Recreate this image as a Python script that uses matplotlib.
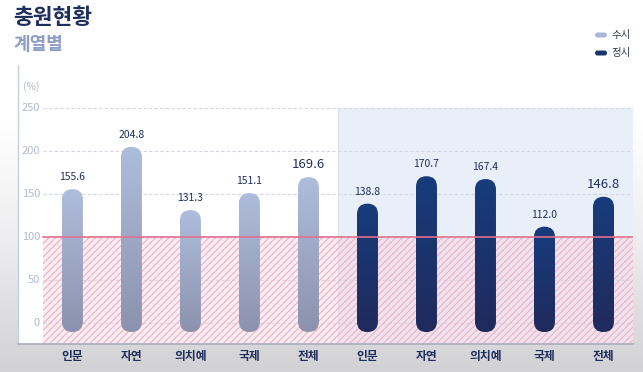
import numpy as np
import matplotlib
matplotlib.use("Agg")
import matplotlib.pyplot as plt
from matplotlib.patches import FancyBboxPatch
from matplotlib.colors import LinearSegmentedColormap
import matplotlib.transforms as mtransforms

plt.rcParams['font.family'] = ['Noto Sans CJK KR', 'DejaVu Sans']
plt.rcParams['hatch.linewidth'] = 0.8

# data
categories = ["인문", "자연", "의치예", "국제", "전체"]
susi = [155.6, 204.8, 131.3, 151.1, 169.6]
jeongsi = [138.8, 170.7, 167.4, 112.0, 146.8]
yticks = [0, 50, 100, 150, 200, 250]
threshold = 100

navy = "#1f2d5a"
tick_col = "#b3b9cf"

W, H = 643, 372
fig = plt.figure(figsize=(W / 100, H / 100), dpi=100)

# faint grey vignette behind everything (screen capture look)
bg = fig.add_axes([0, 0, 1, 1], zorder=-5)
g = np.linspace(0, 1, 200).reshape(-1, 1)
bg.imshow(g, extent=[0, 1, 0, 1], aspect="auto", origin="lower",
          cmap=LinearSegmentedColormap.from_list("bg", ["#d2d2d6", "#ececee", "#ffffff", "#ffffff"]))
bg.axis("off")

x0, x1, ytop, ybot = 18, 633, 65, 344
ax = fig.add_axes([x0 / W, 1 - ybot / H, (x1 - x0) / W, (ybot - ytop) / H])

ymin, ymax = -24.4, 300
step = 59.2
xl = -0.5 - (43 - x0) / step
ax.set_xlim(xl, 9.5)
ax.set_ylim(ymin, ymax)

# right half shading (정시 area)
ax.fill_between([4.5, 9.5], ymin, 250, color="#e9eff8", lw=0, zorder=0)
ax.plot([4.5, 4.5], [ymin, 250], color="#dfe3ee", lw=0.8, zorder=0.5)

# grid
for v in yticks:
    if v != threshold:
        ax.plot([-0.5, 9.5], [v, v], color="#d3d7e2", lw=0.8, ls=(0, (3, 2)), zorder=1)

# hatched area below 100%
ax.fill_between([-0.5, 9.5], ymin, threshold, facecolor="#f6d3df", alpha=0.4, lw=0, zorder=1)
ax.fill_between([-0.5, 9.5], ymin, threshold, facecolor="none", edgecolor="#eeb0c2",
                hatch="/////", lw=0, zorder=1.2)
ax.plot([-0.5, 9.5], [threshold, threshold], color="#e0708e", lw=1.2, zorder=4)

# y tick labels inside the frame
tr = mtransforms.blended_transform_factory(ax.transAxes, ax.transData)
for v in yticks:
    ax.text((40 - x0) / (x1 - x0), v, str(v), transform=tr, ha="right", va="center",
            fontsize=8, color=tick_col)
ax.text((40 - x0) / (x1 - x0), 275, "(%)", transform=tr, ha="right", va="center",
        fontsize=7.5, color=tick_col)

# pill bars with gradient
ax_w_px = x1 - x0
ax_h_px = ybot - ytop
px_x = ax_w_px / (9.5 - xl)
px_y = ax_h_px / (ymax - ymin)
bar_w = 21 / px_x
aspect = px_x / px_y
base = -10.5

light = ("#aebddc", "#8c92ae")
dark = ("#173c7c", "#202a5c")


def pill(xc, top, cols):
    p = FancyBboxPatch((xc - bar_w / 2, base), bar_w, top - base,
                       boxstyle=f"round,pad=0,rounding_size={bar_w / 2}",
                       mutation_aspect=aspect, fc="none", ec="none", zorder=3)
    ax.add_patch(p)
    cmap = LinearSegmentedColormap.from_list("c", [cols[1], cols[0]])
    im = ax.imshow(np.linspace(0, 1, 256).reshape(-1, 1), extent=[xc - bar_w / 2, xc + bar_w / 2, base, top],
                   origin="lower", aspect="auto", cmap=cmap, zorder=3,
                   vmin=0, vmax=1)
    im.set_clip_path(p)


values = susi + jeongsi
for i, v in enumerate(values):
    pill(i, v, light if i < 5 else dark)
    big = categories[i % 5] == "전체"
    ax.annotate(f"{v:.1f}", (i, v), xytext=(0, 5 if not big else 4.5), textcoords="offset points",
                ha="center", va="bottom", fontsize=9.5 if big else 7.5, color=navy)

ax.set_xlim(xl, 9.5)
ax.set_ylim(ymin, ymax)

ax.set_xticks(range(10))
ax.set_xticklabels(categories * 2, fontsize=8.5, fontweight="bold", color=navy)
ax.tick_params(axis="x", length=0, pad=4)
ax.set_yticks([])
for s in ["top", "right"]:
    ax.spines[s].set_visible(False)
ax.spines["left"].set_color("#c9cede")
ax.spines["bottom"].set_color("#a9adbb")
ax.spines["left"].set_linewidth(1)
ax.spines["bottom"].set_linewidth(1.2)
ax.set_facecolor("white")

# titles
fig.text(13 / W, 1 - 17 / H, "충원현황", fontsize=15.5, fontweight="bold", color="#1e2f5e", va="center")
fig.text(14 / W, 1 - 45 / H, "계열별", fontsize=13, fontweight="bold", color="#8d9dc6", va="center")

# legend
for yy, col, lab in [(35, "#a9b8d8", "수시"), (53, "#1a3670", "정시")]:
    fig.patches.append(FancyBboxPatch(((595) / W, 1 - (yy + 2.5) / H), 12 / W, 5 / H,
                                      boxstyle=f"round,pad=0,rounding_size={2.5 / W}",
                                      mutation_aspect=W / H, fc=col, ec="none",
                                      transform=fig.transFigure, figure=fig))
    fig.text(611 / W, 1 - yy / H, lab, fontsize=7.5, color="#333a4a", va="center")

fig.savefig("out.png", dpi=100)
